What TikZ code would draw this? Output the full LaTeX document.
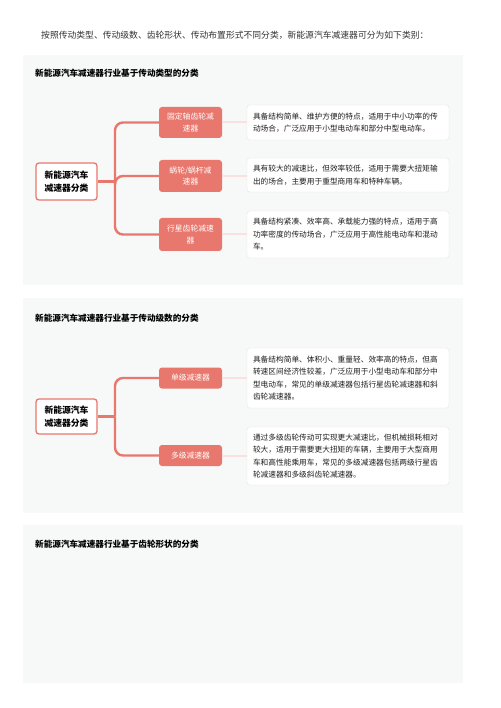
\documentclass[tikz,border=0pt]{standalone}
\usepackage{fontspec}
\newfontfamily\cjk{Noto Sans CJK SC}
\definecolor{salmon}{HTML}{E8776D}
\definecolor{panelgray}{HTML}{F7F8F8}
\definecolor{boxline}{HTML}{E6E6E6}
\definecolor{txt}{HTML}{333333}
\definecolor{desctxt}{HTML}{1E1E1E}
\tikzset{
    panel/.style={fill=panelgray},
    heading/.style={anchor=west, inner sep=0pt, font=\cjk\bfseries\fontsize{8.6}{10}\selectfont},
    rootbox/.style={draw=salmon, line width=1.3pt, fill=white, rounded corners=3pt, minimum width=61pt, align=center, inner sep=2pt, font=\cjk\bfseries\fontsize{8.8}{13.5}\selectfont},
    leaf/.style={fill=salmon, rounded corners=3pt, minimum width=63pt, align=center, inner sep=2pt, text=white, font=\cjk\fontsize{7.8}{11.5}\selectfont},
    desc/.style={draw=boxline, fill=white, rounded corners=3pt, text width=190pt, inner xsep=6pt, align=left, text=desctxt, font=\cjk\fontsize{7.7}{12.5}\selectfont},
    conn/.style={draw=salmon, line width=2.4pt, rounded corners=8pt},
    faint/.style={draw=salmon!22, line width=2pt}
}
\begin{document}
\begin{tikzpicture}[x=1pt, y=-1pt]
    \useasboundingbox[fill=white] (0,0) rectangle (500,708);
    \node[anchor=west, inner sep=0pt, text=txt, font=\cjk\fontsize{8.8}{10}\selectfont] (intro) at (41,35) {按照传动类型、传动级数、齿轮形状、传动布置形式不同分类，新能源汽车减速器可分为如下类别：};

    \fill[panel] (23,55) rectangle (463,285);
    \node[heading] (title1) at (35,73) {新能源汽车减速器行业基于传动类型的分类};
    \node[rootbox, minimum height=37pt] (root1) at (66.5,181.5) {新能源汽车\\减速器分类};
    \node[leaf, minimum height=31pt] (c1) at (190.5,122.5) {固定轴齿轮减\\速器};
    \node[leaf, minimum height=32pt] (c2) at (190.5,176) {蜗轮/蜗杆减\\速器};
    \node[leaf, minimum height=33pt] (c3) at (190.5,234.5) {行星齿轮减速\\器};
    \node[desc, minimum height=35pt] (d1) at (348,122.5) {具备结构简单、维护方便的特点，适用于中小功率的传\\动场合，广泛应用于小型电动车和部分中型电动车。};
    \node[desc, minimum height=34pt] (d2) at (348,175) {具有较大的减速比，但效率较低，适用于需要大扭矩输\\出的场合，主要用于重型商用车和特种车辆。};
    \node[desc, minimum height=47pt] (d3) at (348,234.5) {具备结构紧凑、效率高、承载能力强的特点，适用于高\\功率密度的传动场合，广泛应用于高性能电动车和混动\\车。};
    \coordinate (hub1) at (115,181.5);
    \draw[conn] (root1.east) -- (hub1);
    \draw[conn] (hub1) |- (c1.west);
    \draw[conn] (hub1) |- (c2.west);
    \draw[conn] (hub1) |- (c3.west);
    \draw[faint] (c1.east) -- (d1.west |- c1.east);
    \draw[faint] (c2.east) -- (d2.west |- c2.east);
    \draw[faint] (c3.east) -- (d3.west |- c3.east);

    \fill[panel] (23,298) rectangle (463,513);
    \node[heading] (title2) at (35,318) {新能源汽车减速器行业基于传动级数的分类};
    \node[rootbox, minimum height=35pt] (root2) at (66.5,416.5) {新能源汽车\\减速器分类};
    \node[leaf, minimum height=21pt] (s1) at (190.5,378) {单级减速器};
    \node[leaf, minimum height=21pt] (s2) at (190.5,455.5) {多级减速器};
    \node[desc, minimum height=60pt] (e1) at (348,378) {具备结构简单、体积小、重量轻、效率高的特点，但高\\转速区间经济性较差，广泛应用于小型电动车和部分中\\型电动车，常见的单级减速器包括行星齿轮减速器和斜\\齿轮减速器。};
    \node[desc, minimum height=58pt] (e2) at (348,456) {通过多级齿轮传动可实现更大减速比，但机械损耗相对\\较大，适用于需要更大扭矩的车辆，主要用于大型商用\\车和高性能乘用车，常见的多级减速器包括两级行星齿\\轮减速器和多级斜齿轮减速器。};
    \coordinate (hub2) at (115,416.5);
    \draw[conn] (root2.east) -- (hub2);
    \draw[conn] (hub2) |- (s1.west);
    \draw[conn] (hub2) |- (s2.west);
    \draw[faint] (s1.east) -- (e1.west |- s1.east);
    \draw[faint] (s2.east) -- (e2.west |- s2.east);

    \fill[panel] (23,525) rectangle (463,683);
    \node[heading] (title3) at (35,544) {新能源汽车减速器行业基于齿轮形状的分类};
\end{tikzpicture}
\end{document}
